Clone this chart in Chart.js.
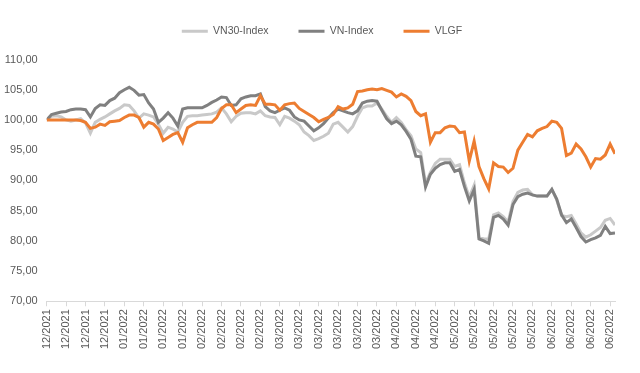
<!DOCTYPE html>
<html>
<head>
<meta charset="utf-8">
<script src="https://cdn.jsdelivr.net/npm/chart.js@4"></script>
<style>
  html, body { margin: 0; padding: 0; background: #fff; }
  #wrap { width: 640px; height: 373px; }
</style>
</head>
<body>
<div id="wrap"><canvas id="chart"></canvas></div>
<script>
// Nhãn trục hoành (mỗi nhãn ứng với 4 phiên)
const tickLabels = [
  '12/2021', '12/2021', '12/2021', '12/2021',
  '01/2022', '01/2022', '01/2022', '01/2022',
  '02/2022', '02/2022', '02/2022', '02/2022',
  '03/2022', '03/2022', '03/2022', '03/2022', '03/2022', '03/2022',
  '04/2022', '04/2022', '04/2022',
  '05/2022', '05/2022', '05/2022', '05/2022', '05/2022',
  '06/2022', '06/2022', '06/2022', '06/2022'
];
const step = 4;

const vn30 = [
  100.0, 100.6, 100.7, 100.5, 100.0, 99.8, 100.0, 100.2, 99.5, 97.8,
  99.6, 100.1, 100.5, 101.0, 101.5, 101.9, 102.5, 102.4, 101.5, 100.3,
  101.0, 100.8, 100.5, 99.3, 97.8, 98.8, 98.5, 98.0, 99.6, 100.6,
  100.7, 100.7, 100.8, 100.9, 101.0, 101.3, 102.0, 101.0, 99.7, 100.6,
  101.1, 101.2, 101.2, 101.0, 101.5, 100.7, 100.5, 100.4, 99.2, 100.6,
  100.3, 99.8, 99.2, 98.0, 97.4, 96.6, 96.9, 97.3, 97.8, 99.3,
  99.6, 98.8, 98.0, 98.9, 100.6, 102.0, 102.3, 102.3, 102.8, 101.8,
  100.6, 99.6, 100.4, 99.6, 98.4, 97.4, 95.2, 94.6, 89.5, 91.3,
  92.8, 93.5, 93.5, 93.5, 92.3, 92.6, 89.6, 87.2, 89.2, 80.6,
  80.3, 80.3, 84.3, 84.6, 84.0, 83.1, 86.5, 88.0, 88.4, 88.5,
  87.6, 87.4, 87.4, 87.4, 88.5, 86.8, 84.2, 84.0, 84.2, 82.8,
  81.3, 80.6, 81.0, 81.6, 82.2, 83.4, 83.7, 82.6
];

const vnIndex = [
  100.0, 100.9, 101.1, 101.3, 101.4, 101.7, 101.8, 101.8, 101.7, 100.5,
  101.9, 102.5, 102.4, 103.2, 103.6, 104.5, 105.0, 105.4, 104.9, 104.1,
  104.2, 102.8, 101.8, 99.6, 100.3, 101.2, 100.3, 99.0, 101.8, 102.0,
  102.0, 102.0, 102.0, 102.4, 102.9, 103.3, 103.8, 103.7, 102.4, 102.5,
  103.5, 103.8, 104.0, 104.0, 104.3, 102.2, 101.5, 101.2, 101.6, 102.0,
  101.6, 100.5, 100.0, 99.8, 99.0, 98.2, 98.7, 99.4, 100.3, 101.2,
  101.8, 101.5, 101.2, 101.0, 101.5, 102.8, 103.1, 103.2, 103.1, 101.6,
  100.2, 99.4, 99.8, 99.2, 98.1, 96.8, 94.0, 93.9, 88.9, 91.0,
  92.0, 92.6, 92.9, 92.9, 91.5, 91.8, 89.0, 86.6, 88.5, 80.3,
  80.0, 79.6, 83.9, 84.2, 83.6, 82.6, 86.0, 87.3, 87.7, 87.9,
  87.6, 87.4, 87.4, 87.4, 88.5, 86.9, 84.3, 83.0, 83.6, 82.2,
  80.7, 79.8, 80.2, 80.5, 80.9, 82.4, 81.2, 81.3
];

const vlgf = [
  100.0, 100.0, 100.0, 100.0, 100.0, 100.0, 100.0, 99.9, 99.6, 98.6,
  98.8, 99.3, 99.1, 99.7, 99.8, 99.9, 100.4, 100.8, 100.8, 100.4,
  98.8, 99.6, 99.3, 98.5, 96.6, 97.1, 97.6, 97.9, 96.3, 98.7,
  99.2, 99.6, 99.6, 99.6, 99.6, 100.4, 101.9, 102.5, 102.5, 101.2,
  101.8, 102.4, 102.5, 102.4, 104.0, 102.6, 102.6, 102.5, 101.6, 102.5,
  102.7, 102.8, 101.9, 101.4, 100.9, 100.4, 99.7, 100.1, 100.4, 100.9,
  102.2, 101.8, 102.0, 102.6, 104.7, 104.8, 105.0, 105.1, 105.0, 105.2,
  104.9, 104.6, 103.8, 104.3, 103.9, 103.2, 101.4, 100.7, 101.0, 96.3,
  97.9, 97.9, 98.7, 99.0, 98.9, 97.9, 98.0, 93.2, 96.5, 92.3,
  90.3, 88.6, 92.9, 92.3, 92.2, 91.3, 92.0, 95.0, 96.3, 97.6,
  97.2, 98.2, 98.6, 98.9, 99.8, 99.6, 98.6, 94.1, 94.5, 96.0,
  95.2, 93.9, 92.2, 93.6, 93.5, 94.2, 96.0, 94.4
];

const textColor = '#595959';
const fontFamily = "'Liberation Sans', Arial, sans-serif";

function toPoints(values) {
  return values.map((v, i) => ({ x: i, y: v }));
}

function makeSeries(label, values, color, order) {
  return {
    label: label,
    data: toPoints(values),
    borderColor: color,
    backgroundColor: color,
    borderWidth: 3,
    pointRadius: 0,
    tension: 0,
    order: order
  };
}

// Thêm khoảng trống dưới chú thích và dịch chú thích sang phải một chút
const legendSpacing = {
  id: 'legendSpacing',
  beforeInit(chart) {
    const fit = chart.legend.fit;
    chart.legend.fit = function () {
      fit.bind(chart.legend)();
      this.height += 13;
    };
  },
  afterLayout(chart) {
    chart.legend.left += 17;
    chart.legend.right += 17;
  }
};

new Chart(document.getElementById('chart'), {
  type: 'line',
  data: {
    datasets: [
      makeSeries('VN30-Index', vn30, '#C9C9C9', 3),
      makeSeries('VN-Index', vnIndex, '#808080', 2),
      makeSeries('VLGF', vlgf, '#ED7D31', 1)
    ]
  },
  plugins: [legendSpacing],
  options: {
    responsive: true,
    maintainAspectRatio: false,
    animation: false,
    layout: { padding: { left: -5, right: 25, top: -4, bottom: 21 } },
    plugins: {
      tooltip: { enabled: false },
      legend: {
        position: 'top',
        labels: {
          usePointStyle: true,
          pointStyle: 'line',
          pointStyleWidth: 26,
          padding: 30,
          color: textColor,
          font: { family: fontFamily, size: 10.5 },
          sort: (a, b) => a.datasetIndex - b.datasetIndex
        }
      }
    },
    scales: {
      x: {
        type: 'linear',
        min: 0,
        max: vlgf.length - 1,
        grid: {
          display: true,
          drawOnChartArea: false,
          drawTicks: true,
          tickLength: 5,
          color: '#D9D9D9'
        },
        border: { display: true, color: '#D9D9D9', width: 1 },
        ticks: {
          stepSize: step,
          autoSkip: false,
          includeBounds: false,
          maxRotation: 90,
          minRotation: 90,
          padding: 3,
          color: textColor,
          font: { family: fontFamily, size: 11 },
          callback: (value) => tickLabels[value / step] || ''
        }
      },
      y: {
        min: 70,
        max: 110,
        grid: { display: false, drawTicks: false },
        border: { display: false },
        ticks: {
          stepSize: 5,
          padding: 9,
          color: textColor,
          font: { family: fontFamily, size: 11 },
          callback: (value) => value.toFixed(2).replace('.', ',')
        }
      }
    }
  }
});
</script>
</body>
</html>
